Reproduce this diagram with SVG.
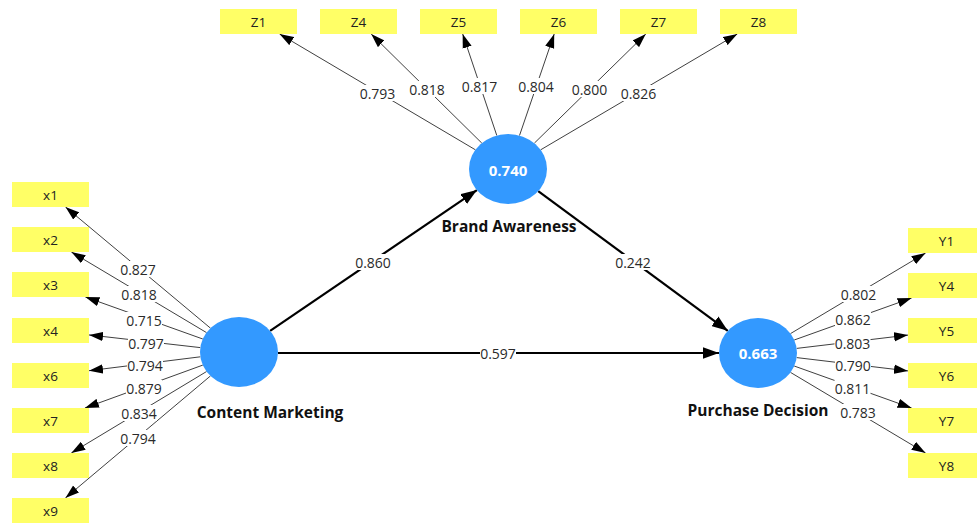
<svg xmlns="http://www.w3.org/2000/svg" width="977" height="523" viewBox="0 0 977 523">
  <defs>
    <style>
      .ind rect { fill: #ffff66; }
      .ind text { font-family: "Open Sans", "Noto Sans", sans-serif; font-size: 13.5px; fill: #222; text-anchor: middle; dominant-baseline: central; }
      .lv ellipse { fill: #3399ff; }
      .lv .val { font-family: "Open Sans", "Noto Sans", sans-serif; font-size: 15px; font-weight: bold; fill: #fff; text-anchor: middle; dominant-baseline: central; }
      .lv .name { font-family: "Open Sans", "Noto Sans", sans-serif; font-size: 15.5px; font-weight: bold; fill: #111; text-anchor: middle; dominant-baseline: central; }
      .load { stroke: #404040; stroke-width: 1; fill: none; marker-end: url(#ah); }
      .path { stroke: #000; stroke-width: 2.2; fill: none; marker-end: url(#ahb); }
      .lbl rect { fill: #fff; }
      .lbl text { font-family: "Open Sans", "Noto Sans", sans-serif; font-size: 14px; fill: #2a2a2a; text-anchor: middle; dominant-baseline: central; }
    </style>
    <marker id="ah" markerUnits="userSpaceOnUse" markerWidth="14" markerHeight="10" viewBox="0 0 12 8" refX="12" refY="4" orient="auto">
      <path d="M0,0 L12,4 L0,8 z" fill="#000"/>
    </marker>
    <marker id="ahb" markerUnits="userSpaceOnUse" markerWidth="16" markerHeight="12" viewBox="0 0 15 11" refX="15" refY="5.5" orient="auto">
      <path d="M0,0 L15,5.5 L0,11 z" fill="#000"/>
    </marker>
  </defs>

  <rect width="977" height="523" fill="#fff"/>

  <g id="connectors">
    <!-- Content Marketing loadings -->
    <line class="load" x1="210.5" y1="328.2" x2="65.5" y2="207"/>
    <line class="load" x1="206.5" y1="332.6" x2="71.4" y2="252"/>
    <line class="load" x1="202.8" y1="339" x2="85.4" y2="297"/>
    <line class="load" x1="200.3" y1="347.6" x2="89" y2="334.9"/>
    <line class="load" x1="200.4" y1="356.8" x2="89" y2="370.7"/>
    <line class="load" x1="202.8" y1="365.1" x2="84.9" y2="408"/>
    <line class="load" x1="206.6" y1="371.5" x2="71.3" y2="453"/>
    <line class="load" x1="210.5" y1="375.9" x2="65.4" y2="498"/>
    <!-- Brand Awareness loadings -->
    <line class="load" x1="475.4" y1="149.8" x2="279.6" y2="34"/>
    <line class="load" x1="481.8" y1="143.1" x2="371.2" y2="34"/>
    <line class="load" x1="496.8" y1="135.5" x2="462.7" y2="34"/>
    <line class="load" x1="519.5" y1="135.5" x2="554.2" y2="34"/>
    <line class="load" x1="534.4" y1="143.1" x2="645.8" y2="34"/>
    <line class="load" x1="540.7" y1="149.8" x2="737.3" y2="34"/>
    <!-- Purchase Decision loadings -->
    <line class="load" x1="790.5" y1="333.6" x2="925.6" y2="253"/>
    <line class="load" x1="794.2" y1="340" x2="911.6" y2="298"/>
    <line class="load" x1="796.7" y1="348.4" x2="908" y2="335.1"/>
    <line class="load" x1="796.7" y1="357.6" x2="908" y2="370.9"/>
    <line class="load" x1="794.2" y1="366" x2="911.6" y2="408"/>
    <line class="load" x1="790.5" y1="372.4" x2="925.6" y2="453"/>
    <!-- structural paths -->
    <line class="path" x1="270.1" y1="330.9" x2="476.9" y2="190.1"/>
    <line class="path" x1="538.2" y1="191.2" x2="727.8" y2="330.8"/>
    <line class="path" x1="278" y1="353" x2="719" y2="353"/>

    <!-- coefficient labels -->
    <g class="lbl">
      <rect x="120" y="261" width="36" height="16"/><text x="138" y="269">0.827</text>
      <rect x="121" y="286" width="36" height="16"/><text x="139" y="294">0.818</text>
      <rect x="126" y="312" width="36" height="16"/><text x="144" y="320">0.715</text>
      <rect x="128" y="335" width="36" height="16"/><text x="146" y="343">0.797</text>
      <rect x="127" y="357" width="36" height="16"/><text x="145" y="365">0.794</text>
      <rect x="126" y="380" width="36" height="16"/><text x="144" y="388">0.879</text>
      <rect x="121" y="405" width="36" height="16"/><text x="139" y="413">0.834</text>
      <rect x="120" y="430" width="36" height="16"/><text x="138" y="438">0.794</text>

      <rect x="359.5" y="85" width="36" height="16"/><text x="377.5" y="93">0.793</text>
      <rect x="409" y="81" width="36" height="16"/><text x="427" y="89">0.818</text>
      <rect x="461.5" y="78" width="36" height="16"/><text x="479.5" y="86">0.817</text>
      <rect x="518" y="78" width="36" height="16"/><text x="536" y="86">0.804</text>
      <rect x="571.5" y="81" width="36" height="16"/><text x="589.5" y="89">0.800</text>
      <rect x="620.5" y="85" width="36" height="16"/><text x="638.5" y="93">0.826</text>

      <rect x="840.5" y="286" width="36" height="16"/><text x="858.5" y="294">0.802</text>
      <rect x="835" y="311" width="36" height="16"/><text x="853" y="319">0.862</text>
      <rect x="834.5" y="335" width="36" height="16"/><text x="852.5" y="343">0.803</text>
      <rect x="835" y="357" width="36" height="16"/><text x="853" y="365">0.790</text>
      <rect x="834.5" y="380" width="36" height="16"/><text x="852.5" y="388">0.811</text>
      <rect x="840" y="404" width="36" height="16"/><text x="858" y="412">0.783</text>

      <rect x="355" y="254" width="36" height="16"/><text x="373" y="262">0.860</text>
      <rect x="615" y="254" width="36" height="16"/><text x="633" y="262">0.242</text>
      <rect x="480" y="345" width="36" height="16"/><text x="498" y="353">0.597</text>
    </g>
  </g>

  <!-- latent variables -->
  <g id="content-marketing" class="lv">
    <ellipse cx="239" cy="352" rx="39" ry="35"/>
    <text class="name" x="270" y="412">Content Marketing</text>
  </g>
  <g id="brand-awareness" class="lv">
    <ellipse cx="508" cy="169" rx="39" ry="35"/>
    <text class="val" x="508" y="170">0.740</text>
    <text class="name" x="509" y="226">Brand Awareness</text>
  </g>
  <g id="purchase-decision" class="lv">
    <ellipse cx="758" cy="353" rx="39" ry="35"/>
    <text class="val" x="758" y="353">0.663</text>
    <text class="name" x="758" y="410">Purchase Decision</text>
  </g>

  <!-- indicators: Content Marketing -->
  <g id="x1" class="ind"><rect x="12" y="182" width="77" height="25"/><text x="50.5" y="194.5">x1</text></g>
  <g id="x2" class="ind"><rect x="12" y="227" width="77" height="25"/><text x="50.5" y="239.5">x2</text></g>
  <g id="x3" class="ind"><rect x="12" y="272" width="77" height="25"/><text x="50.5" y="284.5">x3</text></g>
  <g id="x4" class="ind"><rect x="12" y="318" width="77" height="25"/><text x="50.5" y="330.5">x4</text></g>
  <g id="x6" class="ind"><rect x="12" y="363" width="77" height="25"/><text x="50.5" y="375.5">x6</text></g>
  <g id="x7" class="ind"><rect x="12" y="408" width="77" height="25"/><text x="50.5" y="420.5">x7</text></g>
  <g id="x8" class="ind"><rect x="12" y="453" width="77" height="25"/><text x="50.5" y="465.5">x8</text></g>
  <g id="x9" class="ind"><rect x="12" y="498" width="77" height="25"/><text x="50.5" y="510.5">x9</text></g>

  <!-- indicators: Brand Awareness -->
  <g id="Z1" class="ind"><rect x="220" y="9" width="77" height="25"/><text x="258.5" y="21.5">Z1</text></g>
  <g id="Z4" class="ind"><rect x="320" y="9" width="77" height="25"/><text x="358.5" y="21.5">Z4</text></g>
  <g id="Z5" class="ind"><rect x="420" y="9" width="77" height="25"/><text x="458.5" y="21.5">Z5</text></g>
  <g id="Z6" class="ind"><rect x="520" y="9" width="77" height="25"/><text x="558.5" y="21.5">Z6</text></g>
  <g id="Z7" class="ind"><rect x="620" y="9" width="77" height="25"/><text x="658.5" y="21.5">Z7</text></g>
  <g id="Z8" class="ind"><rect x="720" y="9" width="77" height="25"/><text x="758.5" y="21.5">Z8</text></g>

  <!-- indicators: Purchase Decision -->
  <g id="Y1" class="ind"><rect x="908" y="228" width="77" height="25"/><text x="946.5" y="240.5">Y1</text></g>
  <g id="Y4" class="ind"><rect x="908" y="273" width="77" height="25"/><text x="946.5" y="285.5">Y4</text></g>
  <g id="Y5" class="ind"><rect x="908" y="318" width="77" height="25"/><text x="946.5" y="330.5">Y5</text></g>
  <g id="Y6" class="ind"><rect x="908" y="363" width="77" height="25"/><text x="946.5" y="375.5">Y6</text></g>
  <g id="Y7" class="ind"><rect x="908" y="408" width="77" height="25"/><text x="946.5" y="420.5">Y7</text></g>
  <g id="Y8" class="ind"><rect x="908" y="453" width="77" height="25"/><text x="946.5" y="465.5">Y8</text></g>
</svg>
